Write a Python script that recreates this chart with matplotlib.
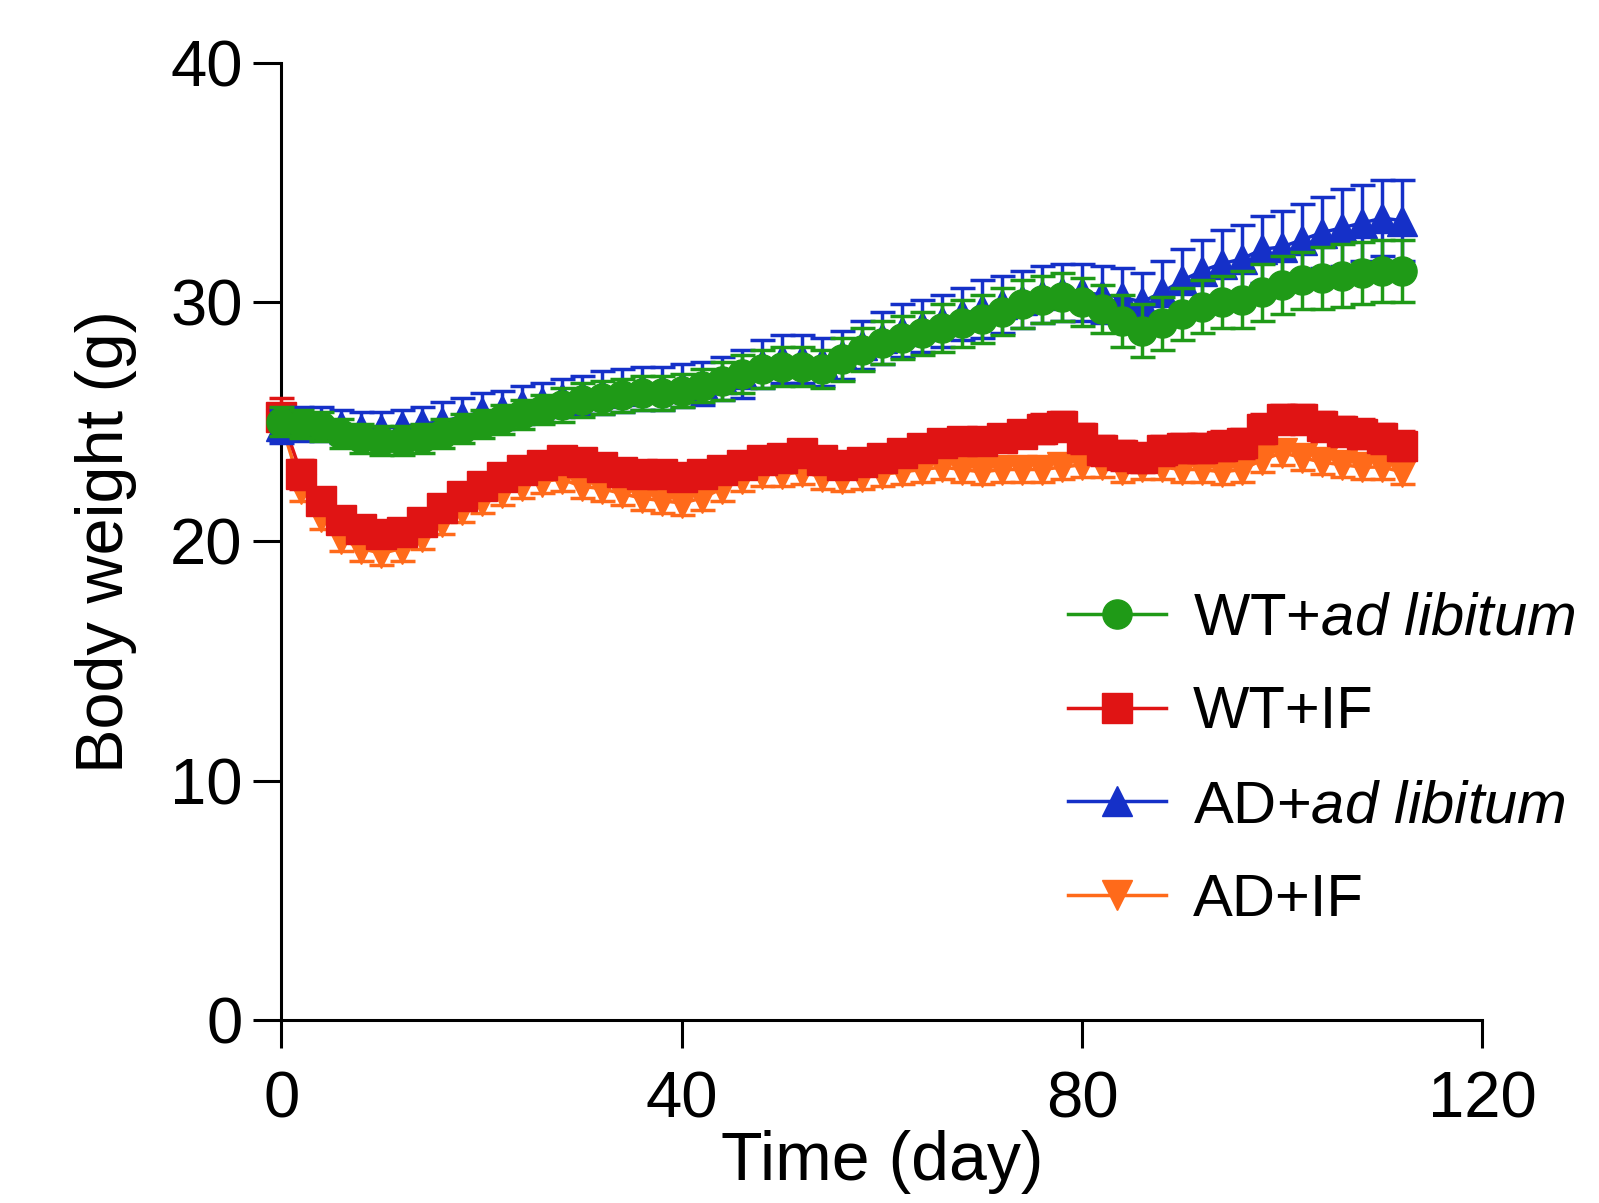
import matplotlib
matplotlib.use("Agg")
import matplotlib.pyplot as plt
from matplotlib.lines import Line2D

plt.rcParams['font.family'] = ['Liberation Sans', 'DejaVu Sans']
plt.rcParams['mathtext.fontset'] = 'custom'
plt.rcParams['mathtext.rm'] = 'Liberation Sans'
plt.rcParams['mathtext.it'] = 'Liberation Sans:italic'

days = [0, 2, 4, 6, 8, 10, 12, 14, 16, 18, 20, 22, 24, 26, 28, 30, 32, 34, 36, 38,
        40, 42, 44, 46, 48, 50, 52, 54, 56, 58, 60, 62, 64, 66, 68, 70, 72, 74, 76, 78,
        80, 82, 84, 86, 88, 90, 92, 94, 96, 98, 100, 102, 104, 106, 108, 110, 112]

wt_adlib = [25.0, 24.9, 24.8, 24.5, 24.3, 24.2, 24.2, 24.3, 24.5, 24.7, 24.9, 25.1, 25.3, 25.5, 25.7, 25.9, 26.0, 26.1, 26.2, 26.2,
            26.3, 26.5, 26.7, 27.0, 27.2, 27.3, 27.3, 27.2, 27.6, 28.0, 28.3, 28.5, 28.7, 28.9, 29.1, 29.3, 29.6, 29.9, 30.1, 30.2,
            30.0, 29.7, 29.2, 28.8, 29.1, 29.5, 29.8, 30.0, 30.1, 30.4, 30.7, 30.9, 31.0, 31.1, 31.2, 31.3, 31.3]
wt_adlib_err = [0.6, 0.6, 0.6, 0.6, 0.6, 0.6, 0.6, 0.6, 0.6, 0.6, 0.6, 0.6, 0.6, 0.6, 0.7, 0.7, 0.7, 0.7, 0.7, 0.7,
                0.7, 0.7, 0.8, 0.8, 0.8, 0.8, 0.8, 0.8, 0.9, 0.9, 0.9, 0.9, 0.9, 1.0, 1.0, 1.0, 1.0, 1.0, 1.0, 1.0,
                1.0, 1.0, 1.1, 1.1, 1.1, 1.1, 1.1, 1.1, 1.2, 1.2, 1.2, 1.2, 1.3, 1.3, 1.3, 1.3, 1.3]

wt_if = [25.2, 22.8, 21.7, 20.9, 20.5, 20.3, 20.4, 20.8, 21.4, 21.9, 22.3, 22.7, 23.0, 23.2, 23.4, 23.3, 23.1, 22.9, 22.8, 22.8,
         22.7, 22.8, 23.0, 23.2, 23.4, 23.5, 23.7, 23.4, 23.2, 23.3, 23.5, 23.7, 23.9, 24.1, 24.2, 24.2, 24.3, 24.5, 24.7, 24.8,
         24.3, 23.8, 23.6, 23.5, 23.8, 23.9, 23.9, 24.0, 24.1, 24.7, 25.1, 25.1, 24.8, 24.6, 24.5, 24.3, 24.0]
wt_if_err = [0.8, 0.6, 0.5, 0.5, 0.5, 0.5, 0.5, 0.5, 0.5, 0.5, 0.5, 0.5, 0.5, 0.5, 0.5, 0.5, 0.5, 0.5, 0.5, 0.5,
             0.5, 0.5, 0.5, 0.5, 0.5, 0.5, 0.5, 0.5, 0.5, 0.5, 0.5, 0.5, 0.5, 0.5, 0.5, 0.5, 0.5, 0.5, 0.6, 0.6,
             0.6, 0.6, 0.6, 0.6, 0.6, 0.6, 0.6, 0.6, 0.6, 0.6, 0.6, 0.6, 0.6, 0.6, 0.6, 0.6, 0.6]

ad_adlib = [24.8, 24.9, 24.9, 24.8, 24.7, 24.7, 24.8, 24.9, 25.0, 25.2, 25.4, 25.5, 25.7, 25.8, 26.0, 26.1, 26.2, 26.3, 26.4, 26.4,
            26.5, 26.6, 26.8, 27.0, 27.4, 27.6, 27.6, 27.5, 27.8, 28.2, 28.5, 28.8, 29.0, 29.2, 29.5, 29.7, 29.9, 30.1, 30.3, 30.4,
            30.4, 30.3, 30.2, 30.0, 30.4, 30.9, 31.3, 31.6, 31.8, 32.2, 32.3, 32.6, 32.9, 33.1, 33.3, 33.5, 33.4]
ad_adlib_err = [0.7, 0.7, 0.7, 0.7, 0.7, 0.7, 0.7, 0.7, 0.8, 0.8, 0.8, 0.8, 0.8, 0.8, 0.8, 0.8, 0.9, 0.9, 0.9, 0.9,
                0.9, 0.9, 0.9, 1.0, 1.0, 1.0, 1.0, 1.0, 1.0, 1.0, 1.1, 1.1, 1.1, 1.1, 1.1, 1.2, 1.2, 1.2, 1.2, 1.2,
                1.2, 1.2, 1.2, 1.2, 1.3, 1.3, 1.3, 1.4, 1.4, 1.4, 1.5, 1.5, 1.5, 1.6, 1.6, 1.6, 1.7]

ad_if = [24.9, 22.2, 21.0, 20.1, 19.7, 19.5, 19.7, 20.2, 20.8, 21.3, 21.7, 22.0, 22.3, 22.5, 22.6, 22.3, 22.2, 22.0, 21.8, 21.7,
         21.6, 21.8, 22.2, 22.6, 22.8, 22.8, 22.9, 22.7, 22.6, 22.7, 22.8, 22.9, 23.0, 23.1, 23.0, 22.9, 23.0, 23.0, 23.0, 23.1,
         23.2, 23.2, 23.0, 23.1, 23.1, 23.0, 23.0, 22.9, 23.0, 23.4, 23.7, 23.5, 23.3, 23.2, 23.1, 23.1, 22.9]
ad_if_err = [0.6, 0.5, 0.5, 0.5, 0.5, 0.5, 0.5, 0.5, 0.5, 0.5, 0.5, 0.5, 0.5, 0.5, 0.5, 0.5, 0.5, 0.5, 0.5, 0.5,
             0.5, 0.5, 0.5, 0.5, 0.5, 0.5, 0.5, 0.5, 0.5, 0.5, 0.5, 0.5, 0.5, 0.5, 0.5, 0.5, 0.5, 0.5, 0.5, 0.5,
             0.5, 0.5, 0.5, 0.5, 0.5, 0.5, 0.5, 0.5, 0.5, 0.5, 0.5, 0.5, 0.5, 0.5, 0.5, 0.5, 0.5]

labels = ["WT+$\\it{ad}$ $\\it{libitum}$", "WT+IF", "AD+$\\it{ad}$ $\\it{libitum}$", "AD+IF"]
colors = ["#1f9a17", "#e01414", "#1530c8", "#ff6a1a"]
markers = ["o", "s", "^", "v"]

fig = plt.figure(figsize=(15.99, 12.03), dpi=100)
ax = fig.add_axes([0.176, 0.152, 0.751, 0.796])

series = [(wt_adlib, wt_adlib_err), (wt_if, wt_if_err), (ad_adlib, ad_adlib_err), (ad_if, ad_if_err)]
zorders = [6, 4, 5, 3]
for (vals, errs), c, m, z in zip(series, colors, markers, zorders):
    ax.errorbar(days, vals, yerr=errs, color=c, marker=m, markersize=21, linewidth=2.5,
                elinewidth=2.5, capsize=9, capthick=2.5, zorder=z, clip_on=False)

ax.set_xlim(0, 120)
ax.set_ylim(0, 40)
ax.set_xticks([0, 40, 80, 120])
ax.set_yticks([0, 10, 20, 30, 40])
for s in ["top", "right"]:
    ax.spines[s].set_visible(False)
for s in ["left", "bottom"]:
    ax.spines[s].set_linewidth(2.2)
ax.tick_params(axis="both", direction="out", length=20, width=2.2, labelsize=47)
ax.tick_params(axis="x", pad=16)
ax.tick_params(axis="y", pad=8)
ax.set_xlabel("Time (day)", fontsize=49, labelpad=0)
ax.set_ylabel("Body weight (g)", fontsize=48, labelpad=24)

handles = [Line2D([0], [0], color=c, marker=m, markersize=21, linewidth=2.5) for c, m in zip(colors, markers)]
fig.legend(handles, labels, loc="upper left", bbox_to_anchor=(0.649, 0.533), frameon=False,
           fontsize=43, handlelength=1.65, handletextpad=0.45, labelspacing=0.65, borderpad=0)

fig.savefig("out.png", dpi=100)
